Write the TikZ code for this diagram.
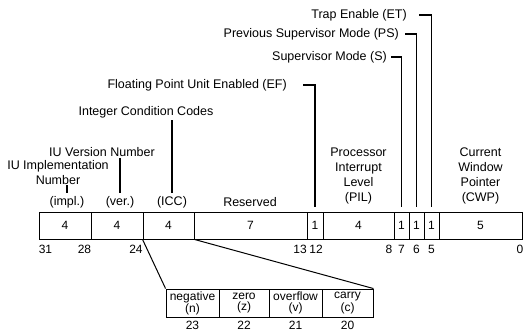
\documentclass[tikz,border=0pt]{standalone}
\usepackage{fontspec}
\setmainfont{Liberation Sans}
\usetikzlibrary{calc}

\tikzset{
  field/.style={draw, line width=0.9pt, minimum height=27pt, inner sep=0pt, font=\fontsize{12}{12}\selectfont},
  subfield/.style={draw, line width=0.9pt, minimum height=28pt, inner sep=0pt, align=center, font=\fontsize{12}{11}\selectfont},
  lbl/.style={inner sep=0pt, align=center, font=\fontsize{12.5}{15}\selectfont},
  bitno/.style={inner sep=0pt, font=\fontsize{12}{12}\selectfont},
  leader/.style={line width=1.5pt},
  link/.style={line width=1pt}
}

\begin{document}
\begin{tikzpicture}[x=1pt,y=-1pt]
\useasboundingbox (0,0) rectangle (525,331);
% register fields
\node[field, minimum width=52] (impl) at (65,225.5) {4};
\node[field, minimum width=52] (ver) at (117,225.5) {4};
\node[field, minimum width=51] (icc) at (168.5,225.5) {4};
\node[field, minimum width=113] (res) at (250.5,225.5) {7};
\node[field, minimum width=16] (ef) at (315,225.5) {1};
\node[field, minimum width=71] (pil) at (358.5,225.5) {4};
\node[field, minimum width=15] (s) at (401.5,225.5) {1};
\node[field, minimum width=15] (ps) at (416.5,225.5) {1};
\node[field, minimum width=15] (et) at (431.5,225.5) {1};
\node[field, minimum width=83] (cwp) at (480.5,225.5) {5};
% bit numbers
\node[bitno] (b31) at (45.5,249) {31};
\node[bitno] (b28) at (84.5,249) {28};
\node[bitno] (b24) at (136,249) {24};
\node[bitno] (b13) at (300,249) {13};
\node[bitno] (b12) at (316,249) {12};
\node[bitno] (b8) at (389,249) {8};
\node[bitno] (b7) at (401.5,249) {7};
\node[bitno] (b6) at (416.5,249) {6};
\node[bitno] (b5) at (431.5,249) {5};
\node[bitno] (b0) at (520,249) {0};
% field tags
\node[lbl] (impltag) at (67,202) {(impl.)};
\node[lbl] (vertag) at (120,202) {(ver.)};
\node[lbl] (icctag) at (172,202) {(ICC)};
\node[lbl] (restag) at (250,202) {Reserved};
\node[lbl] (piltag) at (358.5,176) {Processor\\Interrupt\\Level\\(PIL)};
\node[lbl] (cwptag) at (480.5,176) {Current\\Window\\Pointer\\(CWP)};
% names with leaders
\node[lbl] (implname) at (58,173) {IU Implementation\\Number};
\node[lbl] (vername) at (102,152) {IU Version Number};
\node[lbl] (iccname) at (146,112) {Integer Condition Codes};
\draw[leader] (impltag.north |- implname.south) -- ([yshift=3pt]impltag.north);
\draw[leader] ([yshift=-1pt]vertag.north |- vername.south) -- ([yshift=3pt]vertag.north);
\draw[leader] ([yshift=-2pt]icctag.north |- iccname.south) -- ([yshift=3pt]icctag.north);
\node[lbl, anchor=east] (eflbl) at (287,85) {Floating Point Unit Enabled (EF)};
\node[lbl, anchor=east] (slbl) at (387,57) {Supervisor Mode (S)};
\node[lbl, anchor=east] (pslbl) at (399,34) {Previous Supervisor Mode (PS)};
\node[lbl, anchor=east] (etlbl) at (407,15) {Trap Enable (ET)};
\draw[leader] ([xshift=16pt]eflbl.east) -| ([yshift=5pt]ef.north);
\draw[leader] ([xshift=4pt]slbl.east) -| ([yshift=5pt]s.north);
\draw[leader] ([xshift=6pt]pslbl.east) -| ([yshift=5pt]ps.north);
\draw[leader] ([xshift=12pt]etlbl.east) -| ([yshift=5pt]et.north);
% condition code bits
\node[subfield, minimum width=53] (neg) at (192.5,303) {negative\\(n)};
\node[subfield, minimum width=50] (zero) at (244,303) {zero\\(z)};
\node[subfield, minimum width=53] (ovf) at (295.5,303) {overflow\\(v)};
\node[subfield, minimum width=51] (carry) at (347.5,303) {carry\\(c)};
\draw[link] (icc.south west) -- (neg.north west);
\draw[link] (icc.south east) -- (carry.north east);
\node[bitno] (b23) at (192.5,325) {23};
\node[bitno] (b22) at (244,325) {22};
\node[bitno] (b21) at (295.5,325) {21};
\node[bitno] (b20) at (347.5,325) {20};
\end{tikzpicture}
\end{document}
